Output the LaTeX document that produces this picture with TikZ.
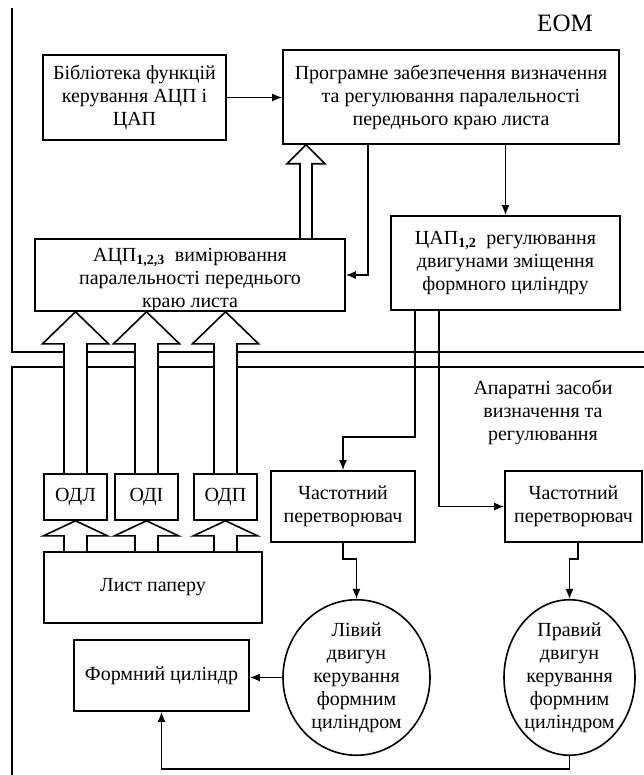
\documentclass[tikz,border=0pt]{standalone}
\usepackage{fontspec}
\setmainfont{Liberation Serif}
\usetikzlibrary{arrows.meta,shapes.geometric,calc}
\newcommand\hollowup[5]{%
  \filldraw[hollow] let \p1=#1, \p2=#2 in
   (\x2-#3,\y1) -- (\x2-#3,\y2-#5) -- (\x2-#4,\y2-#5) -- (\x2,\y2)
   -- (\x2+#4,\y2-#5) -- (\x2+#3,\y2-#5) -- (\x2+#3,\y1);}
\begin{document}
\begin{tikzpicture}[x=1pt,y=-1pt,
  every node/.style={font=\fontsize{20}{23}\selectfont, align=center, inner sep=0pt},
  box/.style={draw, line width=1.6pt, rectangle},
  ell/.style={draw, line width=1.6pt, ellipse, inner sep=0pt},
  arr/.style={line width=1.6pt, -{Latex[length=10pt,width=8pt]}},
  ln/.style={line width=1.6pt},
  hollow/.style={draw, fill=white, line width=1.6pt, line join=miter}]
\useasboundingbox (0,0) rectangle (644,775);
\fill[white] (0,0) rectangle (644,775);

% frame
\draw[ln] (12,8) -- (12,352) -- (644,352);
\draw[ln] (644,367) -- (12,367) -- (12,775);

\node[font=\fontsize{25}{28}\selectfont] (eom) at (565,23) {ЕОМ};
\node (hw) at (543,412) {Апаратні засоби\\визначення та\\регулювання};

% boxes
\node[box, minimum width=183pt, minimum height=85pt] (lib) at (134.5,97.5) {Бібліотека функцій\\керування АЦП і\\ЦАП};
\node[box, minimum width=336pt, minimum height=94pt] (prog) at (451,97) {Програмне забезпечення визначення\\та регулювання паралельності\\переднього краю листа};
\node[box, minimum width=310pt, minimum height=72pt] (adc) at (190,275) {};
\node at (190,280) {АЦП\textsubscript{\textbf{1,2,3}}\ \ вимірювання\\паралельності переднього\\краю листа};
\node[box, minimum width=229pt, minimum height=94pt] (dac) at (505.5,263) {ЦАП\textsubscript{\textbf{1,2}}\ \ регулювання\\двигунами зміщення\\формного циліндру};
\node[box, minimum width=63pt, minimum height=46pt] (odl) at (75.5,497) {ОДЛ};
\node[box, minimum width=63pt, minimum height=46pt] (odi) at (146.5,497) {ОДІ};
\node[box, minimum width=63pt, minimum height=46pt] (odp) at (225.5,497) {ОДП};
\node[box, minimum width=218pt, minimum height=71pt] (list) at (153,587.5) {Лист паперу};
\node[box, minimum width=144pt, minimum height=71pt] (freq1) at (343,506.5) {Частотний\\перетворювач};
\node[box, minimum width=137pt, minimum height=71pt] (freq2) at (573.5,506.5) {Частотний\\перетворювач};
\node[box, minimum width=175pt, minimum height=71pt] (cyl) at (161.5,675.5) {Формний циліндр};
\node[ell, minimum width=147pt, minimum height=149pt] (motL) at (356.5,677.5) {Лівий\\двигун\\керування\\формним\\циліндром};
\node[ell, minimum width=131pt, minimum height=149pt] (motR) at (569.5,677.5) {Правий\\двигун\\керування\\формним\\циліндром};

% helper coordinates
\coordinate (xA) at (368,0);
\coordinate (xH) at (306,0);
\coordinate (k1) at (415,437);
\coordinate (xC) at (439,0);

% connectors
\draw[arr] (lib.east) -- (prog.west |- lib.east);
\draw[arr] (prog.south -| xA) |- (adc.east);
\draw[arr] (prog.south -| dac.north) -- (dac.north);
\draw[arr] (dac.south -| k1) -- (k1) -| (freq1.north);
\draw[arr] (dac.south -| xC) |- (freq2.west);
\draw[arr] (freq1.south) -- ++(0,16) -| (motL.north);
\draw[arr] ($(freq2.south)+(4.5,0)$) -- ++(0,16) -| (motR.north);
\draw[arr] (motL.west) -- (motL.west -| cyl.east);
\draw[arr] (motR.south) -- ++(0,13) -| (cyl.south);

% hollow arrows
\hollowup{(adc.north -| xH)}{(prog.south -| xH)}{6pt}{19pt}{19pt}
\hollowup{(odl.north)}{(odl.north |- adc.south)}{11.5pt}{33pt}{32pt}
\hollowup{(odi.north)}{(odi.north |- adc.south)}{11.5pt}{33pt}{32pt}
\hollowup{(odp.north)}{(odp.north |- adc.south)}{11.5pt}{33pt}{32pt}
\hollowup{(list.north -| odl.south)}{(odl.south)}{11.5pt}{32pt}{15pt}
\hollowup{(list.north -| odi.south)}{(odi.south)}{11.5pt}{32pt}{15pt}
\hollowup{(list.north -| odp.south)}{(odp.south)}{11.5pt}{32pt}{15pt}
\end{tikzpicture}
\end{document}
